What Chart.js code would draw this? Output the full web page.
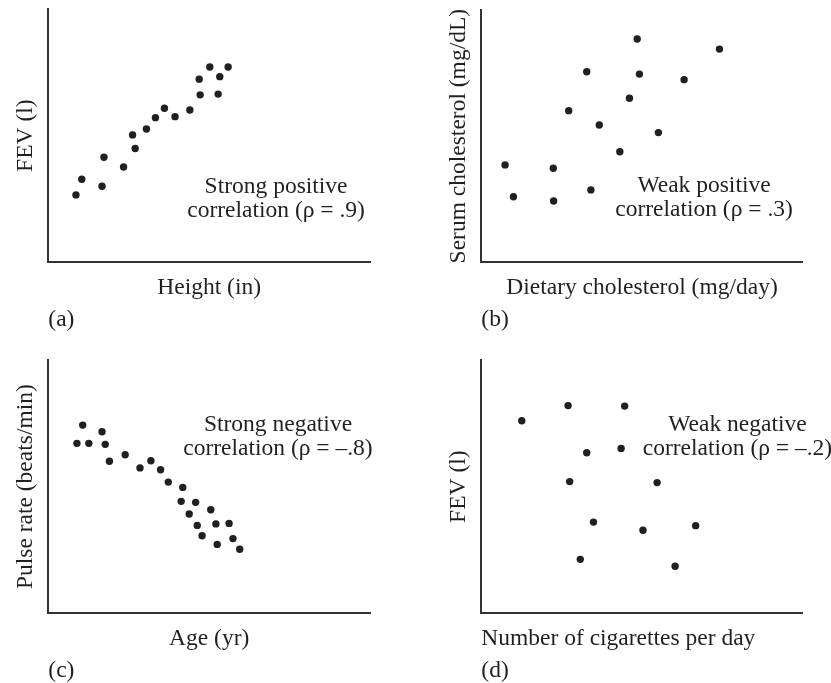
<!DOCTYPE html>
<html>
<head>
<meta charset="utf-8">
<script src="https://cdn.jsdelivr.net/npm/chart.js@4.4.1/dist/chart.umd.min.js"></script>
<style>
  html, body { margin: 0; padding: 0; background: #fff; }
  #wrap { position: relative; width: 831px; height: 683px; overflow: hidden; }
  canvas { position: absolute; }
</style>
</head>
<body>
<div id="wrap">
  <canvas id="panelA" width="415" height="340" style="left:0;top:0"></canvas>
  <canvas id="panelB" width="416" height="340" style="left:415px;top:0"></canvas>
  <canvas id="panelC" width="415" height="343" style="left:0;top:340px"></canvas>
  <canvas id="panelD" width="416" height="343" style="left:415px;top:340px"></canvas>
</div>
<script>
// (a) height vs FEV
const heightIn = [0.86, 1.04, 1.67, 1.73, 2.34, 2.62, 2.70, 3.05, 3.33, 3.61, 3.94, 4.40, 4.69, 4.72, 5.02, 5.28, 5.33, 5.59];
const fevA     = [2.66, 3.28, 3.00, 4.15, 3.76, 5.03, 4.49, 5.26, 5.71, 6.08, 5.75, 6.01, 7.23, 6.61, 7.71, 6.64, 7.33, 7.71];

// (b) dietary vs serum cholesterol
const dietChol  = [4.85, 7.41, 3.28, 4.92, 6.31, 4.61, 2.72, 3.67, 5.51, 4.31, 0.74, 2.24, 3.41, 1.00, 2.25];
const serumChol = [8.85, 8.45, 7.55, 7.46, 7.24, 6.50, 6.01, 5.44, 5.14, 4.38, 3.86, 3.73, 2.87, 2.60, 2.43];

// (c) age vs pulse rate
const ageYr = [1.07, 1.67, 0.89, 1.26, 1.77, 1.90, 2.39, 2.85, 3.19, 3.49, 3.73, 4.18, 4.13, 4.58, 4.38, 5.05, 4.63, 5.21, 5.62, 4.78, 5.25, 5.74, 5.95];
const pulse = [7.43, 7.17, 6.71, 6.71, 6.67, 6.00, 6.26, 5.74, 6.02, 5.67, 5.18, 4.97, 4.42, 4.38, 3.92, 4.09, 3.47, 3.53, 3.55, 3.06, 2.72, 2.95, 2.53];

// (d) cigarettes vs FEV
const cigsDay = [1.26, 2.70, 4.46, 3.28, 4.35, 2.75, 5.47, 3.49, 5.03, 6.67, 3.08, 6.03];
const fevD    = [7.60, 8.20, 8.18, 6.34, 6.51, 5.20, 5.16, 3.60, 3.28, 3.46, 2.13, 1.86];

const INK = "#231f20";
const FONT_SIZE = 23.5;
const FONT = `${FONT_SIZE}px "Liberation Serif", "Times New Roman", serif`;
const LH = FONT_SIZE * 1.2;

// text drawn inside the plot + panel letter under it
const notesPlugin = {
  id: "notes",
  afterDraw(chart, args, opts) {
    const { ctx, chartArea, scales } = chart;
    ctx.save();
    ctx.font = FONT;
    ctx.fillStyle = INK;
    ctx.textBaseline = "middle";
    ctx.textAlign = "center";
    const cx = scales.x.getPixelForValue(opts.at[0]);
    const cy = scales.y.getPixelForValue(opts.at[1]);
    const n = opts.lines.length;
    opts.lines.forEach((t, i) => ctx.fillText(t, cx, cy + (i - (n - 1) / 2) * 24));
    ctx.textAlign = "left";
    ctx.fillText(opts.tag, chartArea.left, chartArea.bottom + 58);
    ctx.restore();
  },
};

// area = [left, top, right, bottom] of the plot inside its canvas
function makePanel(id, xs, ys, xTitle, yTitle, area, note, tag, xAlign) {
  const el = document.getElementById(id);
  const W = el.width, H = el.height;
  const xPadTop = 26 - LH / 2;
  const yPadIn = 22.5 - LH / 2;
  new Chart(el, {
    type: "scatter",
    data: {
      datasets: [{
        data: xs.map((x, i) => ({ x, y: ys[i] })),
        backgroundColor: INK,
        borderWidth: 0,
        pointRadius: 3.7,
        pointHoverRadius: 3.7,
      }],
    },
    options: {
      responsive: false,
      animation: false,
      events: [],
      layout: {
        autoPadding: false,
        padding: {
          left: area[0] - LH - yPadIn,
          top: area[1],
          right: W - area[2],
          bottom: H - area[3] - LH - xPadTop,
        },
      },
      scales: {
        x: {
          type: "linear", min: 0, max: 10,
          grid: { color: "transparent", drawTicks: false },
          border: { display: true, color: "#333", width: 2 },
          ticks: { display: false },
          title: {
            display: true, text: xTitle, color: INK, align: xAlign || "center",
            font: { family: '"Liberation Serif", serif', size: FONT_SIZE },
            padding: { top: xPadTop, bottom: 0 },
          },
        },
        y: {
          type: "linear", min: 0, max: 10,
          grid: { color: "transparent", drawTicks: false },
          border: { display: true, color: "#333", width: 2 },
          ticks: { display: false },
          title: {
            display: true, text: yTitle, color: INK,
            font: { family: '"Liberation Serif", serif', size: FONT_SIZE },
            padding: { top: 0, bottom: yPadIn },
          },
        },
      },
      plugins: {
        legend: { display: false },
        tooltip: { enabled: false },
        notes: { lines: note.lines, at: note.at, tag },
      },
    },
    plugins: [notesPlugin],
  });
}

makePanel("panelA", heightIn, fevA, "Height (in)", "FEV (l)",
  [48.3, 9, 370, 262.3],
  { lines: ["Strong positive", "correlation (\u03c1 = .9)"], at: [7.08, 2.5] }, "(a)");

makePanel("panelB", dietChol, serumChol, "Dietary cholesterol (mg/day)", "Serum cholesterol (mg/dL)",
  [66.3, 10, 387.7, 262.3],
  { lines: ["Weak positive", "correlation (\u03c1 = .3)"], at: [6.93, 2.55] }, "(b)");

makePanel("panelC", ageYr, pulse, "Age (yr)", "Pulse rate (beats/min)",
  [48.3, 20, 370, 273.3],
  { lines: ["Strong negative", "correlation (\u03c1 = \u2013.8)"], at: [7.14, 6.97] }, "(c)");

makePanel("panelD", cigsDay, fevD, "Number of cigarettes per day", "FEV (l)",
  [66.3, 20, 387.7, 273.3],
  { lines: ["Weak negative", "correlation (\u03c1 = \u2013.2)"], at: [7.97, 6.97] }, "(d)", "start");
</script>
</body>
</html>
